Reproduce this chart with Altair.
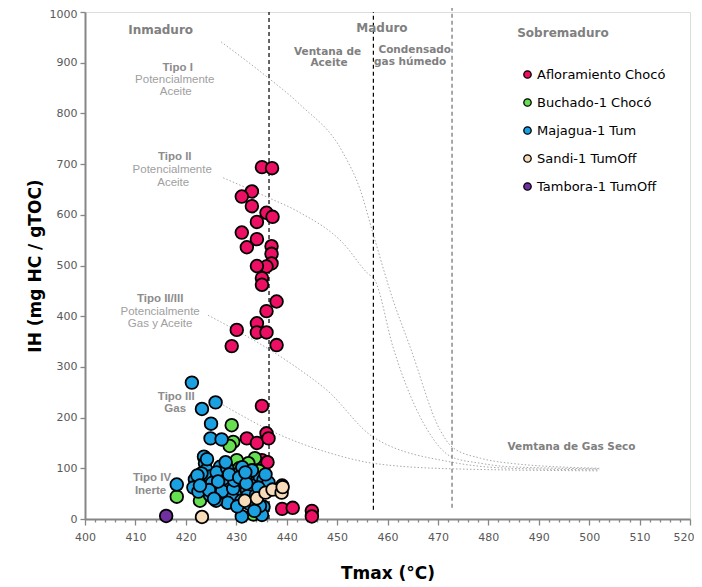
import altair as alt
import pandas as pd

# ---------------- data ----------------
series_names = ["Afloramiento Chocó", "Buchado-1 Chocó", "Majagua-1 Tum",
                "Sandi-1 TumOff", "Tambora-1 TumOff"]
series_colors = ["#EC0F63", "#66E050", "#1BA1E2", "#F7DCB9", "#7030A0"]

afl_tmax = [435.1, 437.1, 433.1, 431.1, 433.1, 436.0, 437.2, 434.1, 431.1, 434.1,
            432.1, 437.0, 437.0, 437.0, 436.0, 434.1, 435.1, 435.1, 438.0, 436.0,
            430.1, 434.1, 434.1, 436.0, 429.1, 438.0, 435.1, 432.1, 434.1, 436.0,
            436.4, 435.1, 436.2, 439.1, 441.2, 445.0, 445.0]
afl_ih = [694, 692, 646, 636, 617, 604, 596, 586, 565, 552,
          536, 538, 523, 504, 498, 499, 475, 462, 429, 410,
          373, 386, 368, 368, 341, 343, 223, 159, 150, 169,
          159, 116, 112, 20, 22, 16, 5]

buc_tmax = [429.1, 429.4, 428.7, 430.1, 433.7, 432.4, 418.2, 422.8, 433.4, 430.6, 434.5]
buc_ih = [185, 152, 144, 116, 120, 110, 44, 36, 9, 100, 95]

maj_tmax = [421.2, 423.2, 425.9, 425.0, 424.9, 427.1, 418.2, 431.1, 439.1, 435.4, 435.1,
            423.6, 423.8, 424.1, 426.8, 423.2, 421.8, 421.5, 422.5, 424.8, 425.8,
            428.1, 429.1, 430.8, 431.4, 432.7, 434.1, 434.7, 430.1, 432.1, 426.8,
            424.8, 429.1, 434.7, 435.4, 427.5, 426.1, 428.2, 430.0, 433.0, 432.2,
            428.3, 431.0, 433.9, 436.0, 423.1, 425.2, 427.2, 429.4, 431.2, 433.1,
            422.3, 426.0, 430.2, 435.2, 436.4, 429.6, 427.9, 424.6, 432.6, 433.6,
            425.6, 428.6, 430.6, 432.0, 434.4, 426.4, 422.8, 424.2, 431.8, 435.8]
maj_ih = [269, 217, 230, 188, 159, 157, 68, 5, 66, 24, 8,
          123, 110, 97, 103, 75, 78, 62, 54, 84, 62,
          62, 88, 93, 78, 84, 75, 81, 57, 57, 47,
          47, 44, 26, 77, 80, 92, 100, 70, 66, 45,
          32, 36, 47, 62, 90, 71, 55, 60, 102, 96,
          86, 36, 25, 55, 72, 76, 112, 57, 30, 16,
          40, 88, 82, 70, 62, 74, 66, 118, 92, 88]

san_tmax = [423.2, 431.7, 434.1, 435.8, 437.2, 439.0, 439.2]
san_ih = [4, 36, 41, 52, 58, 52, 63]

tam_tmax = [416.1]
tam_ih = [6]

# kerogen type evolution curves (dotted)
curve_names = ["Tipo I", "Tipo II", "Tipo II/III", "Tipo III"]
curve_I_tmax = [427.0, 436.1, 442.7, 451.2, 454.6, 457.1, 461.1, 464.5, 470.4, 472.8, 478.4, 484.3, 502.0]
curve_I_ih = [941, 872, 817, 722, 649, 564, 432, 339, 176, 142, 120, 110, 100]
curve_II_tmax = [427.4, 436.1, 442.7, 451.2, 456.0, 457.5, 461.1, 467.9, 472.8, 478.4, 484.3, 502.0]
curve_II_ih = [673, 635, 604, 544, 485, 471, 339, 176, 122, 110, 103, 99]
curve_IIIII_tmax = [424.4, 442.1, 448.0, 457.1, 472.8, 484.3, 502.0]
curve_IIIII_ih = [402, 298, 254, 162, 112, 100, 97]
curve_III_tmax = [427.4, 437.3, 448.6, 457.1, 472.8, 502.0]
curve_III_ih = [225, 172, 130, 110, 99, 95]

# maturity boundaries
bound_tmax = [436.5, 457.2, 472.8]
bound_ih_low = [0, 18, 22]
bound_ih_high = [1000, 1000, 1013]
bound_color = ["#000000", "#000000", "#6E6E6E"]

# annotations
head_text = ["Inmaduro", "Maduro", "Sobremaduro"]
head_tmax = [415.0, 458.9, 494.8]
head_ih = [964, 968, 958]

sub_text = ["Ventana de", "Aceite", "Condensado", "gas húmedo", "Vemtana de Gas Seco"]
sub_tmax = [448.1, 448.4, 465.4, 464.5, 496.5]
sub_ih = [922, 899, 925, 901, 142]

tipo_text = ["Tipo I", "Tipo II", "Tipo II/III", "Tipo III", "Gas", "Tipo IV", "Inerte"]
tipo_tmax = [418.4, 417.8, 414.9, 418.1, 417.9, 413.3, 413.0]
tipo_ih = [890, 714, 434, 241, 217, 81, 55]

desc_text = ["Potencialmente", "Aceite", "Potencialmente", "Aceite", "Potencialmente", "Gas y Aceite"]
desc_tmax = [417.8, 418.0, 417.3, 417.5, 414.9, 414.9]
desc_ih = [866, 842, 688, 663, 408, 385]

x_ticks = list(range(400, 521, 2))
y_ticks = list(range(0, 1001, 100))

# ---------------- tables ----------------
rows = []
for name, xs, ys in zip(series_names,
                        [afl_tmax, buc_tmax, maj_tmax, san_tmax, tam_tmax],
                        [afl_ih, buc_ih, maj_ih, san_ih, tam_ih]):
    for a, b in zip(xs, ys):
        rows.append({"serie": name, "tmax": a, "ih": b})
pts = pd.DataFrame(rows)

crow = []
for name, xs, ys in zip(curve_names,
                        [curve_I_tmax, curve_II_tmax, curve_IIIII_tmax, curve_III_tmax],
                        [curve_I_ih, curve_II_ih, curve_IIIII_ih, curve_III_ih]):
    for i, (a, b) in enumerate(zip(xs, ys)):
        crow.append({"curve": name, "i": i, "tmax": a, "ih": b})
curves = pd.DataFrame(crow)

bounds = pd.DataFrame({"tmax": bound_tmax, "lo": bound_ih_low, "hi": bound_ih_high, "c": bound_color})

xscale = alt.Scale(domain=[400, 520], nice=False, zero=False)
yscale = alt.Scale(domain=[0, 1000], nice=False)

xaxis = alt.Axis(
    title="Tmax (°C)", values=x_ticks, format="d",
    labelExpr="datum.value % 10 === 0 ? datum.label : ''",
    tickSize={"condition": {"test": "datum.value % 10 === 0", "value": 6}, "value": 3},
    labelAlign={"condition": {"test": "datum.value === 520", "value": "right"}, "value": "center"},
    labelOffset={"condition": {"test": "datum.value === 520", "value": 4}, "value": 0},
    labelFlush=False, labelOverlap=False, labelBound=False, grid=False,
    labelFont="DejaVu Sans", labelFontSize=11, labelColor="#595959", labelPadding=6,
    domainColor="#868686", domainWidth=2, tickColor="#868686", tickWidth=1.3,
    titleFont="DejaVu Sans", titleFontSize=17, titleFontWeight="bold", titleColor="#000000",
    titlePadding=23,
)
yaxis = alt.Axis(
    title="IH (mg HC / gTOC)", values=y_ticks, format="d", grid=False,
    labelFlush=False, labelOverlap=False,
    labelOffset={"condition": {"test": "datum.value === 1000", "value": 2.5}, "value": 0},
    labelFont="DejaVu Sans", labelFontSize=11, labelColor="#595959", labelPadding=3,
    domainColor="#868686", domainWidth=2, tickColor="#868686", tickWidth=1.3, tickSize=5,
    titleFont="DejaVu Sans", titleFontSize=17, titleFontWeight="bold", titleColor="#000000",
    titlePadding=5,
)


def X(field="tmax"):
    return alt.X(f"{field}:Q", scale=xscale, axis=xaxis)


def Y(field="ih"):
    return alt.Y(f"{field}:Q", scale=yscale, axis=yaxis)


curve_layer = alt.Chart(curves).mark_line(color="#A8A8A8", strokeWidth=1, strokeDash=[1.5, 2],
                                          interpolate="monotone").encode(
    x=X(), y=Y(), detail="curve:N", order="i:Q",
)

bound_layer = alt.Chart(bounds).mark_rule(strokeDash=[4, 3], strokeWidth=1.2).encode(
    x=X(), y=Y("lo"), y2="hi:Q", color=alt.Color("c:N", scale=None),
)


def text_layer(txt, xs, ys, font, size, weight, color):
    df = pd.DataFrame({"t": txt, "tmax": xs, "ih": ys})
    return alt.Chart(df).mark_text(font=font, fontSize=size, fontWeight=weight, color=color,
                                   align="center", baseline="middle").encode(
        x=X(), y=Y(), text="t:N")


heads = text_layer(head_text, head_tmax, head_ih, "DejaVu Sans", 12, "bold", "#808080")
subs = text_layer(sub_text, sub_tmax, sub_ih, "DejaVu Sans", 10.5, "bold", "#808080")
tipos = text_layer(tipo_text, tipo_tmax, tipo_ih, "Liberation Sans", 11.5, "bold", "#8C8C8C")
descs = text_layer(desc_text, desc_tmax, desc_ih, "Liberation Sans", 11.5, "normal", "#A0A0A0")

point_layer = alt.Chart(pts).mark_circle(size=160, stroke="#000000", strokeWidth=1.8, opacity=1).encode(
    x=X(), y=Y(),
    color=alt.Color("serie:N", scale=alt.Scale(domain=series_names, range=series_colors),
                    legend=alt.Legend(title=None, orient="none", legendX=436, legendY=56,
                                      symbolType="circle", symbolSize=55, symbolStrokeColor="#000000",
                                      symbolStrokeWidth=1.3, symbolOpacity=1,
                                      labelFont="DejaVu Sans", labelFontSize=13, labelColor="#000000",
                                      labelOffset=3, rowPadding=14, padding=0)),
)

chart = alt.layer(curve_layer, bound_layer, heads, subs, tipos, descs, point_layer).properties(
    width=605, height=507,
    autosize=alt.AutoSizeParams(type="none"),
    padding={"left": 77, "top": 4, "right": 4, "bottom": 67},
).configure_view(stroke="#000000", strokeWidth=2.5).configure(background="white")

chart.save("out.html", embed_options={"renderer": "svg", "actions": False})
